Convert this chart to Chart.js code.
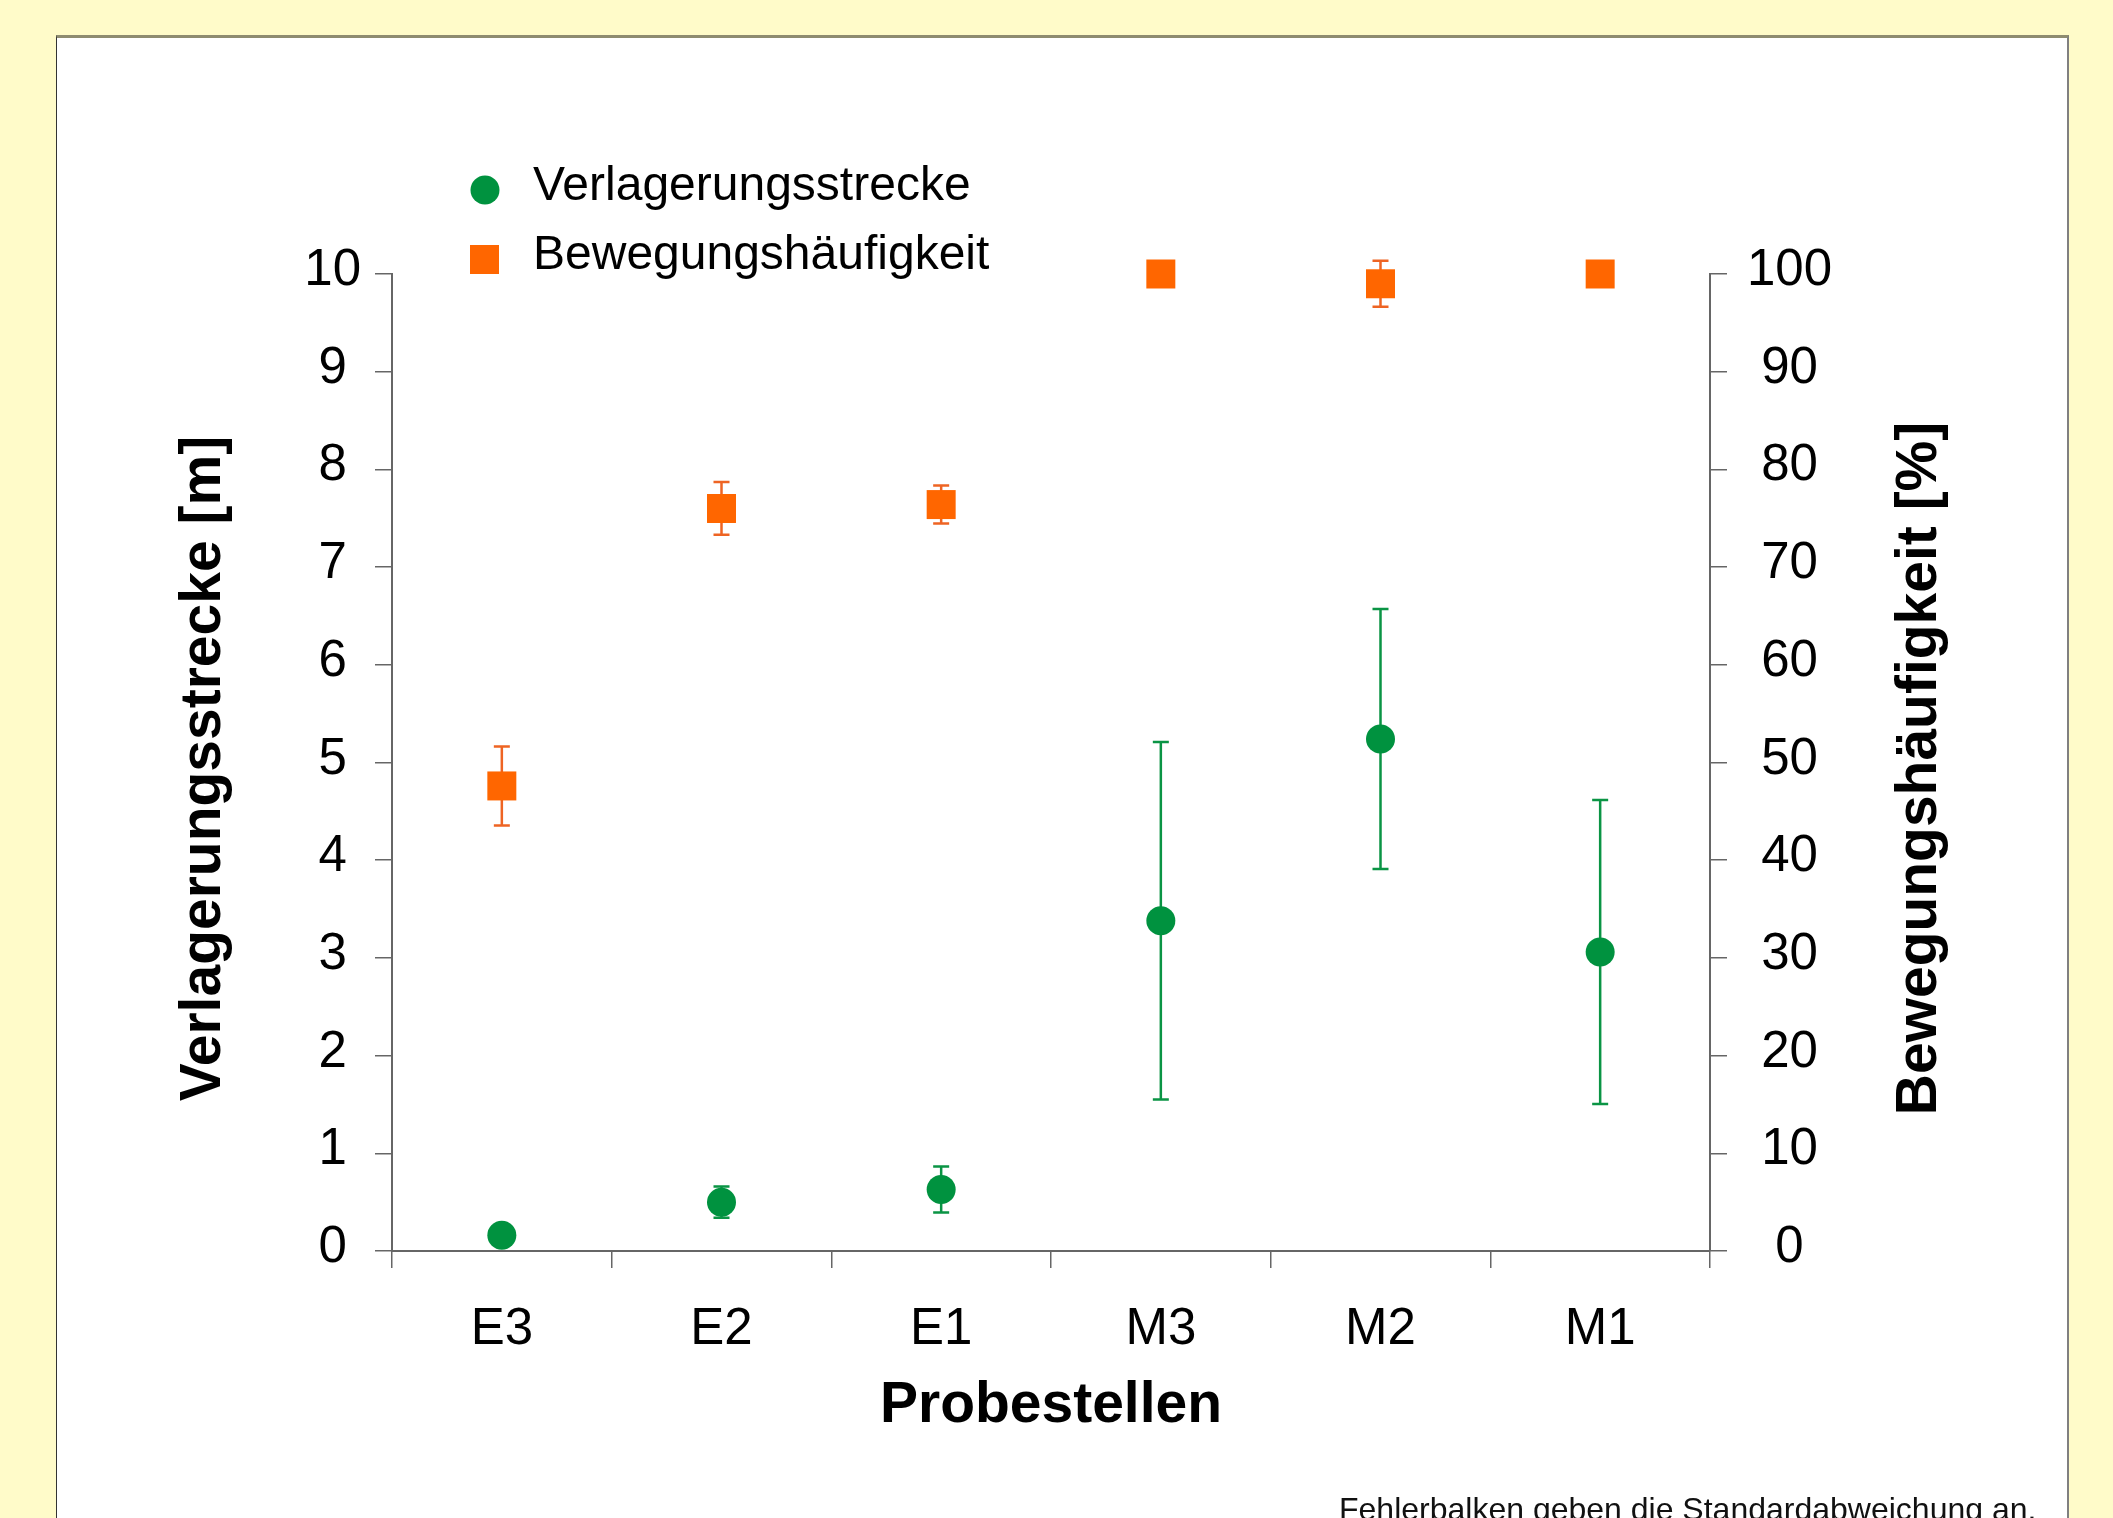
<!DOCTYPE html>
<html lang="de">
<head>
    <meta charset="UTF-8">
    <title>Verlagerungsstrecke und Bewegungshäufigkeit</title>
    <style>
        body { margin: 0; background: #FFFBC9; width: 2113px; height: 1518px; overflow: hidden; position: relative; }
        #panel { position: absolute; left: 56px; top: 35px; width: 2010px; height: 1500px;
                 background: #fff; border-top: 3px solid #8e8c70; border-left: 1px solid #333; border-right: 2px solid #808080; }
        #myChart { position: absolute; left: 0; top: 0; }
    </style>
</head>
<body>
<div id="panel"></div>
<canvas id="myChart" width="2113" height="1518"></canvas>

<script src="https://cdn.jsdelivr.net/npm/chart.js"></script>

<script>
    const FONT = '"Liberation Sans", Arial, sans-serif';

    const labels = ['E3', 'E2', 'E1', 'M3', 'M2', 'M1'];
    // Verlagerungsstrecke [m], mean and standard deviation
    const strecke = [0.16, 0.50, 0.63, 3.38, 5.24, 3.06];
    const streckeSd = [0, 0.16, 0.235, 1.83, 1.33, 1.555];
    // Bewegungshäufigkeit [%], mean and standard deviation
    const haeufigkeit = [47.6, 76.0, 76.4, 100, 99.0, 100];
    const haeufigkeitSd = [4.05, 2.7, 1.95, 0, 2.35, 0];

    const GREEN = '#00923F';
    const ORANGE = '#FF6600';
    const LEFT_TITLE = 'Verlagerungsstrecke [m]';
    const RIGHT_TITLE = 'Bewegungshäufigkeit [%]';

    // vertical error bars, drawn behind the markers
    const errorBars = {
        id: 'errorBars',
        beforeDatasetsDraw(chart) {
            const ctx = chart.ctx;
            chart.data.datasets.forEach((ds, i) => {
                const meta = chart.getDatasetMeta(i);
                const yScale = chart.scales[ds.yAxisID];
                ctx.save();
                ctx.strokeStyle = ds.errorColor;
                ctx.lineWidth = 2.5;
                meta.data.forEach((pt, j) => {
                    const sd = ds.errors[j];
                    if (!sd) return;
                    const top = yScale.getPixelForValue(ds.data[j] + sd);
                    const bot = yScale.getPixelForValue(ds.data[j] - sd);
                    ctx.beginPath();
                    ctx.moveTo(pt.x, top); ctx.lineTo(pt.x, bot);
                    ctx.moveTo(pt.x - 8, top); ctx.lineTo(pt.x + 8, top);
                    ctx.moveTo(pt.x - 8, bot); ctx.lineTo(pt.x + 8, bot);
                    ctx.stroke();
                });
                ctx.restore();
            });
        }
    };

    function verticalTitle(ctx, text, x, y) {
        ctx.save();
        ctx.translate(x, y);
        ctx.rotate(-Math.PI / 2);
        ctx.fillStyle = '#000';
        ctx.font = 'bold 57px ' + FONT;
        ctx.textAlign = 'center';
        ctx.textBaseline = 'middle';
        ctx.fillText(text, 0, 0);
        ctx.restore();
    }

    // legend, both axis titles (read bottom to top) and footnote
    const extras = {
        id: 'extras',
        afterDraw(chart) {
            const ctx = chart.ctx;
            const ds = chart.data.datasets;
            const area = chart.chartArea;
            ctx.save();
            ctx.fillStyle = ds[0].backgroundColor;
            ctx.beginPath();
            ctx.arc(485, 190, 14.5, 0, Math.PI * 2);
            ctx.fill();
            ctx.fillStyle = ds[1].backgroundColor;
            ctx.fillRect(470, 245, 29, 29);

            ctx.fillStyle = '#000';
            ctx.font = '48px ' + FONT;
            ctx.textBaseline = 'alphabetic';
            ctx.fillText(ds[0].label, 533, 200);
            ctx.fillText(ds[1].label, 533, 269);

            ctx.font = '32px ' + FONT;
            ctx.fillStyle = '#111';
            ctx.fillText('Fehlerbalken geben die Standardabweichung an.', 1339, 1520);
            ctx.restore();

            const midY = (area.top + area.bottom) / 2 + 6;
            verticalTitle(ctx, LEFT_TITLE, 204, midY);
            verticalTitle(ctx, RIGHT_TITLE, 1920, midY);
        }
    };

    const axisColor = '#666';

    const config = {
        type: 'line',
        data: {
            labels: labels,
            datasets: [{
                label: 'Verlagerungsstrecke',
                data: strecke,
                errors: streckeSd,
                errorColor: '#0A9444',
                yAxisID: 'y',
                showLine: false,
                clip: false,
                pointStyle: 'circle',
                pointRadius: 14.5,
                pointBorderWidth: 0,
                backgroundColor: GREEN,
                borderColor: GREEN
            }, {
                label: 'Bewegungshäufigkeit',
                data: haeufigkeit,
                errors: haeufigkeitSd,
                errorColor: '#EE6423',
                yAxisID: 'y1',
                showLine: false,
                clip: false,
                pointStyle: 'rect',
                pointRadius: 20.5,
                pointBorderWidth: 0,
                backgroundColor: ORANGE,
                borderColor: ORANGE
            }]
        },
        options: {
            responsive: false,
            animation: false,
            layout: { padding: { left: 170, right: 159, top: 274, bottom: 78 } },
            plugins: {
                legend: { display: false },
                tooltip: { enabled: false }
            },
            scales: {
                x: {
                    type: 'category',
                    offset: true,
                    afterFit(scale) { scale.height = 189; },
                    grid: { offset: true, drawOnChartArea: false, tickLength: 17, color: axisColor, lineWidth: 1.5 },
                    border: { color: axisColor, width: 2 },
                    ticks: { color: '#000', padding: 31, font: { family: FONT, size: 51 } },
                    title: { display: true, text: 'Probestellen', color: '#000', padding: 0,
                             font: { family: FONT, size: 57, weight: 'bold' } }
                },
                y: {
                    position: 'left',
                    min: 0, max: 10,
                    afterFit(scale) { scale.width = 222; },
                    grid: { drawOnChartArea: false, tickLength: 17, color: axisColor, lineWidth: 1.5 },
                    border: { color: axisColor, width: 2 },
                    ticks: {
                        stepSize: 0.5,
                        crossAlign: 'center',
                        padding: 14,
                        labelOffset: -3,
                        color: '#000',
                        font: { family: FONT, size: 51 },
                        callback: v => Number.isInteger(v) ? String(v) : ''
                    },
                    title: { display: false }
                },
                y1: {
                    position: 'right',
                    min: 0, max: 100,
                    afterFit(scale) { scale.width = 244; },
                    grid: { drawOnChartArea: false, tickLength: 17, color: axisColor, lineWidth: 1.5 },
                    border: { color: axisColor, width: 2 },
                    ticks: {
                        stepSize: 10,
                        crossAlign: 'center',
                        padding: 20,
                        labelOffset: -3,
                        color: '#000',
                        font: { family: FONT, size: 51 }
                    },
                    title: { display: false }
                }
            }
        },
        plugins: [errorBars, extras]
    };

    const ctx = document.getElementById('myChart').getContext('2d');
    const chart = new Chart(ctx, config);
</script>

</body>
</html>
